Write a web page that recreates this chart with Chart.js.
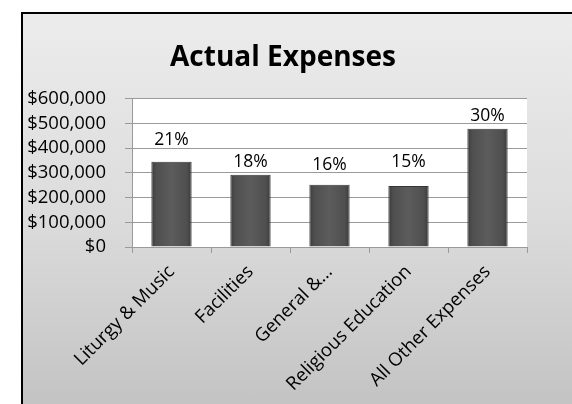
<!DOCTYPE html>
<html>
<head>
<meta charset="utf-8">
<script src="https://cdn.jsdelivr.net/npm/chart.js@4.4.1/dist/chart.umd.min.js"></script>
<style>
  html, body { margin: 0; padding: 0; background: #fff; overflow: hidden; }
  #frame {
    position: absolute; left: 21px; top: 12px;
    width: 560px; height: 400px;
    border: 2px solid #000;
    background: linear-gradient(to bottom, #ececec 0%, #dcdcdc 50%, #c2c2c2 100%);
  }
  #chartBox { position: absolute; left: -4px; top: 0; width: 553px; height: 390px; }
</style>
</head>
<body>
<div id="frame"><div id="chartBox"><canvas id="expensesChart"></canvas></div></div>
<script>
// Actual expenses by category
const categories = ['Liturgy & Music', 'Facilities', 'General &\u2026', 'Religious Education', 'All Other Expenses'];
const expenses = [345000, 292000, 252000, 247000, 478000];
const shareLabels = ['21%', '18%', '16%', '15%', '30%'];
const yTicks = [0, 100000, 200000, 300000, 400000, 500000, 600000];

const baseFont = '"Open Sans", Lato, sans-serif';
const barPct = 0.51;

// white plot area, like the Excel chart
const plotBackground = {
  id: 'plotBackground',
  beforeDraw(chart) {
    const { ctx, chartArea: a } = chart;
    ctx.save();
    ctx.fillStyle = '#ffffff';
    ctx.fillRect(a.left, a.top, a.right - a.left, a.bottom - a.top);
    ctx.restore();
  }
};

// percent share above each bar
const shareLabelPlugin = {
  id: 'shareLabels',
  afterDatasetsDraw(chart, args, opts) {
    const { ctx } = chart;
    const meta = chart.getDatasetMeta(0);
    ctx.save();
    ctx.font = '17.5px ' + baseFont;
    ctx.fillStyle = '#000';
    ctx.textAlign = 'center';
    ctx.textBaseline = 'bottom';
    meta.data.forEach((bar, i) => {
      const gap = (opts.gaps && opts.gaps[i]) || 10;
      ctx.fillText(shareLabels[i], bar.x, bar.y - gap);
    });
    ctx.restore();
  }
};

// rounded "bevel" look: dark edges, lighter middle
function barFill(c) {
  const chart = c.chart;
  const sx = chart.scales.x;
  if (!sx || !chart.chartArea) return '#545454';
  const cx = sx.getPixelForValue(c.dataIndex);
  const half = (sx.width / categories.length) * barPct / 2;
  const g = chart.ctx.createLinearGradient(cx - half, 0, cx + half, 0);
  g.addColorStop(0, '#3a3a3a');
  g.addColorStop(0.12, '#4f4f4f');
  g.addColorStop(0.5, '#5c5c5c');
  g.addColorStop(0.88, '#4f4f4f');
  g.addColorStop(1, '#3a3a3a');
  return g;
}

const ctx = document.getElementById('expensesChart');
new Chart(ctx, {
  type: 'bar',
  data: {
    labels: categories,
    datasets: [{
      data: expenses,
      backgroundColor: barFill,
      borderColor: '#363636',
      borderWidth: 1,
      barPercentage: barPct,
      categoryPercentage: 1
    }]
  },
  options: {
    responsive: true,
    maintainAspectRatio: false,
    animation: false,
    layout: { padding: { left: 0, right: 25, top: 0, bottom: 0 } },
    scales: {
      x: {
        offset: true,
        grid: { display: true, drawOnChartArea: false, offset: true, color: '#9a9a9a', tickLength: 6 },
        border: { color: '#9a9a9a' },
        ticks: {
          autoSkip: false, maxRotation: 45, minRotation: 45,
          color: '#000', font: { family: baseFont, size: 18.5 }, padding: 8
        },
        afterFit(scale) { scale.height = 157; }
      },
      y: {
        min: 0, max: 600000,
        afterBuildTicks(scale) { scale.ticks = yTicks.map(v => ({ value: v })); },
        grid: { color: '#9a9a9a', tickLength: 7 },
        border: { color: '#9a9a9a' },
        ticks: {
          autoSkip: false,
          color: '#000', font: { family: baseFont, size: 18.5 }, padding: 19,
          callback: v => '$' + v.toLocaleString('en-US')
        },
        afterFit(scale) { scale.width = 113; }
      },
      // empty spacer on the right so the title sits where Excel put it
      spacer: {
        type: 'linear', position: 'right', display: true,
        grid: { display: false }, border: { display: false }, ticks: { display: false },
        afterFit(scale) { scale.width = 20; }
      }
    },
    plugins: {
      legend: { display: false },
      tooltip: { enabled: false },
      title: {
        display: true,
        text: 'Actual Expenses',
        color: '#000',
        font: { family: baseFont, size: 28, weight: 'bold' },
        padding: { top: 27, bottom: 24 }
      },
      shareLabels: { gaps: [13, 4, 11, 15, 4] }
    }
  },
  plugins: [plotBackground, shareLabelPlugin]
});
</script>
</body>
</html>
